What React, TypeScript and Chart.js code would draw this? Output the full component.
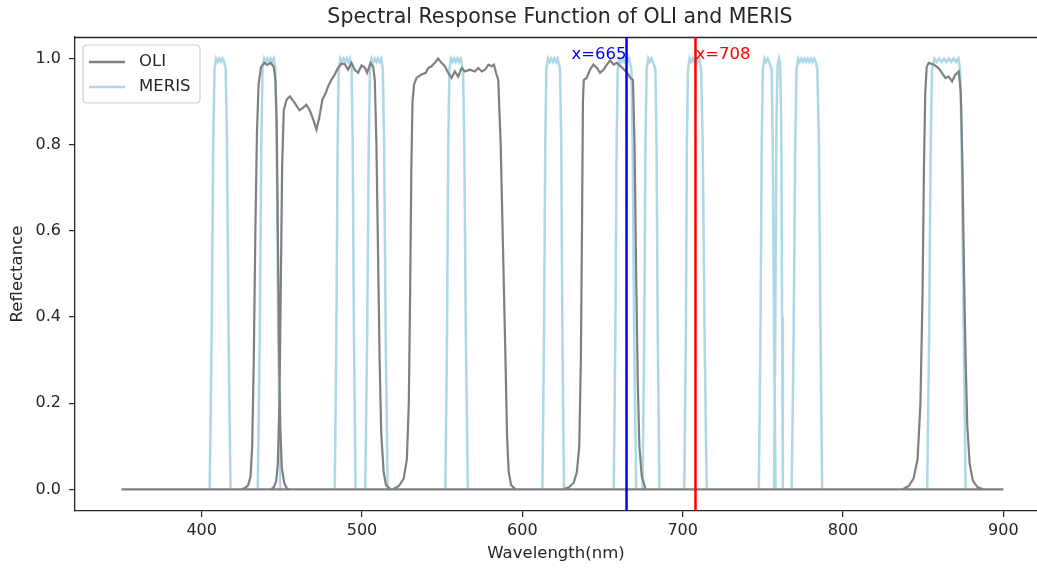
import React, { useEffect, useRef } from "react";
import { Chart, registerables } from "chart.js";

Chart.register(...registerables);

// ---------- text ----------
const TITLE = "Spectral Response Function of OLI and MERIS";
const X_LABEL = "Wavelength(nm)";
const Y_LABEL = "Reflectance";
const SERIES_NAMES = ["OLI", "MERIS"];
const SERIES_COLORS = ["#808080", "#add8e6"];

// ---------- axes ----------
const X_MIN = 321;
const X_MAX = 921;
const Y_MIN = -0.05;
const Y_MAX = 1.05;
const X_TICKS = [400, 500, 600, 700, 800, 900];
const Y_TICKS = [0, 0.2, 0.4, 0.6, 0.8, 1.0];

// ---------- marker lines ----------
const VLINE_X = [665, 708];
const VLINE_COLORS = ["#0000ff", "#ff0000"];
const VLINE_LABELS = ["x=665", "x=708"];

// ---------- OLI (Landsat-8) spectral response ----------
const OLI_BASE_WL = [350, 900];
const OLI_BASE_VAL = [0, 0];

const OLI_B1_WL = [424, 427, 429, 430.5, 431.5, 432.5, 433.5, 434.5, 435.5, 437, 439, 441, 443, 445, 446, 446.8, 447.5, 448.2, 449, 450, 451.5, 453, 455];
const OLI_B1_VAL = [0, 0.003, 0.01, 0.03, 0.1, 0.3, 0.6, 0.83, 0.94, 0.98, 0.99, 0.985, 0.99, 0.98, 0.95, 0.85, 0.6, 0.35, 0.15, 0.05, 0.015, 0.003, 0];

const OLI_B2_WL = [443, 445, 446.5, 447.5, 448.5, 449.3, 450.2, 451.2, 453, 455, 458, 461, 463, 465.3, 467.4, 470, 471.6, 473.3, 475.3, 477.4, 478.9, 481, 483, 485, 487.2, 489.3, 491.3, 493.4, 495.5, 497.6, 499.7, 501.7, 503.2, 505.3, 507, 508, 509, 510, 511, 512, 513.5, 515, 518];
const OLI_B2_VAL = [0, 0.005, 0.02, 0.06, 0.2, 0.45, 0.75, 0.88, 0.905, 0.912, 0.897, 0.88, 0.885, 0.893, 0.88, 0.854, 0.835, 0.862, 0.905, 0.92, 0.936, 0.951, 0.963, 0.978, 0.988, 0.987, 0.974, 0.99, 0.974, 0.967, 0.984, 0.979, 0.967, 0.99, 0.981, 0.95, 0.8, 0.55, 0.3, 0.13, 0.04, 0.01, 0];

const OLI_B3_WL = [519, 523, 526, 528, 529.2, 530, 530.8, 531.5, 532.5, 534, 537.1, 539.8, 541.3, 543.4, 545.4, 547.5, 549.6, 551.7, 553.7, 555.9, 557.9, 560, 562.1, 564.2, 567.3, 570.4, 572.5, 574.7, 576.8, 578.8, 580.9, 582.3, 583.6, 585, 586.5, 588, 589.5, 590.5, 591.5, 593, 596];
const OLI_B3_VAL = [0, 0.008, 0.025, 0.07, 0.2, 0.45, 0.75, 0.9, 0.94, 0.955, 0.963, 0.967, 0.978, 0.982, 0.99, 1.0, 0.99, 0.982, 0.967, 0.955, 0.97, 0.958, 0.978, 0.97, 0.974, 0.97, 0.978, 0.97, 0.974, 0.986, 0.982, 0.986, 0.967, 0.95, 0.8, 0.55, 0.3, 0.12, 0.04, 0.01, 0];

const OLI_B4_WL = [625, 629, 632, 634, 635.5, 636.5, 637.2, 637.8, 638.3, 640.1, 642.2, 644.3, 646.4, 648.5, 650.6, 652.7, 654.8, 656.9, 659, 662.2, 665.3, 667.4, 669, 670, 671, 672, 673, 674.5, 677];
const OLI_B4_VAL = [0, 0.005, 0.015, 0.04, 0.1, 0.3, 0.6, 0.9, 0.95, 0.955, 0.974, 0.986, 0.979, 0.967, 0.974, 0.986, 0.996, 0.986, 0.99, 0.979, 0.967, 0.955, 0.95, 0.8, 0.5, 0.25, 0.1, 0.03, 0];

const OLI_B5_WL = [837, 841, 844, 846.5, 848.3, 849.6, 850.5, 851.3, 852.2, 853.4, 856.5, 859.6, 861.7, 863.8, 865.9, 868, 870, 872.2, 873.5, 874.5, 875.5, 876.5, 877.5, 879, 881, 884, 888];
const OLI_B5_VAL = [0, 0.008, 0.025, 0.07, 0.2, 0.45, 0.75, 0.92, 0.98, 0.99, 0.986, 0.978, 0.967, 0.955, 0.958, 0.947, 0.962, 0.97, 0.92, 0.75, 0.5, 0.3, 0.15, 0.06, 0.02, 0.005, 0];

// ---------- MERIS spectral response ----------
const MERIS_412_WL = [405, 406.2, 407.2, 408, 409, 410, 411, 412, 413, 414, 415, 415.8, 416.8, 418];
const MERIS_412_VAL = [0, 0.35, 0.8, 0.975, 1, 0.992, 1, 0.992, 1, 0.992, 0.975, 0.8, 0.35, 0];
const MERIS_442_WL = [435, 436.2, 437.2, 438, 439, 440, 441, 442, 443, 444, 445, 446, 446.8, 447.8, 449];
const MERIS_442_VAL = [0, 0.35, 0.8, 0.975, 1, 0.992, 1, 0.992, 1, 0.992, 1, 0.975, 0.8, 0.35, 0];
const MERIS_490_WL = [483, 484, 484.8, 485.5, 486.5, 487.5, 488.5, 489.5, 490.5, 491.5, 492.5, 493.5, 494.2, 495, 496];
const MERIS_490_VAL = [0, 0.35, 0.8, 0.975, 1, 0.992, 1, 0.992, 1, 0.992, 1, 0.975, 0.8, 0.35, 0];
const MERIS_510_WL = [502, 503.2, 504.2, 505, 506, 507, 508, 509, 510, 511, 512, 513, 513.8, 514.8, 516];
const MERIS_510_VAL = [0, 0.35, 0.8, 0.975, 1, 0.992, 1, 0.992, 1, 0.992, 1, 0.975, 0.8, 0.35, 0];
const MERIS_560_WL = [552, 553, 553.8, 554.5, 555.5, 556.5, 557.5, 558.5, 559.5, 560.5, 561.5, 563, 563.8, 564.8, 566];
const MERIS_560_VAL = [0, 0.35, 0.8, 0.975, 1, 0.992, 1, 0.992, 1, 0.992, 1, 0.975, 0.8, 0.35, 0];
const MERIS_620_WL = [612.5, 613.5, 614.3, 615, 616, 617, 618, 619, 620, 621, 622, 623.5, 624.3, 625, 626];
const MERIS_620_VAL = [0, 0.35, 0.8, 0.975, 1, 0.992, 1, 0.992, 1, 0.992, 1, 0.975, 0.8, 0.35, 0];
const MERIS_665_WL = [657, 658, 658.8, 659.5, 660.5, 661.5, 662.5, 663.5, 664.5, 665.5, 666.5, 668, 668.8, 669.8, 671];
const MERIS_665_VAL = [0, 0.35, 0.8, 0.975, 1, 0.992, 1, 0.992, 1, 0.992, 1, 0.975, 0.8, 0.35, 0];
const MERIS_681_WL = [675, 676, 676.8, 677.5, 678.5, 679.5, 680.5, 681.5, 683, 683.7, 684.5, 685.5];
const MERIS_681_VAL = [0, 0.35, 0.8, 0.975, 1, 0.992, 1, 0.992, 0.975, 0.8, 0.35, 0];
const MERIS_708_WL = [701, 702, 702.6, 703.3, 704.3, 705.3, 706.3, 707.3, 708.3, 709.3, 710.3, 711.5, 712.5, 713.7, 715];
const MERIS_708_VAL = [0, 0.35, 0.8, 0.975, 1, 0.992, 1, 0.992, 1, 0.992, 1, 0.975, 0.8, 0.35, 0];
const MERIS_753_WL = [747.5, 748.5, 749.3, 750, 751, 752, 753, 754, 755.5, 756.2, 757, 758];
const MERIS_753_VAL = [0, 0.35, 0.8, 0.975, 1, 0.992, 1, 0.992, 0.975, 0.8, 0.35, 0];
const MERIS_761_WL = [757, 757.8, 758.5, 759.2, 760, 760.8, 761.5, 762, 762.5];
const MERIS_761_VAL = [0, 0.4, 0.85, 0.985, 1, 0.985, 0.85, 0.4, 0];
const MERIS_778_WL = [768, 769.2, 770.2, 771, 772, 773, 774, 775, 776, 777, 778, 779, 780, 781, 782, 783, 784, 785, 786, 787];
const MERIS_778_VAL = [0, 0.35, 0.8, 0.975, 1, 0.992, 1, 0.992, 1, 0.992, 1, 0.992, 1, 0.992, 1, 0.992, 0.975, 0.8, 0.35, 0];
const MERIS_865_WL = [852.5, 853.7, 854.7, 855.5, 857, 858.5, 860, 861.5, 863, 864.5, 866, 867.5, 869, 870.5, 872, 873, 874, 875.3, 876.5];
const MERIS_865_VAL = [0, 0.35, 0.8, 0.975, 1, 0.992, 1, 0.992, 1, 0.992, 1, 0.992, 1, 0.992, 1, 0.975, 0.8, 0.35, 0];

const OLI_SEGMENTS: [number[], number[]][] = [
  [OLI_BASE_WL, OLI_BASE_VAL],
  [OLI_B1_WL, OLI_B1_VAL],
  [OLI_B2_WL, OLI_B2_VAL],
  [OLI_B3_WL, OLI_B3_VAL],
  [OLI_B4_WL, OLI_B4_VAL],
  [OLI_B5_WL, OLI_B5_VAL],
];

const MERIS_SEGMENTS: [number[], number[]][] = [
  [MERIS_412_WL, MERIS_412_VAL],
  [MERIS_442_WL, MERIS_442_VAL],
  [MERIS_490_WL, MERIS_490_VAL],
  [MERIS_510_WL, MERIS_510_VAL],
  [MERIS_560_WL, MERIS_560_VAL],
  [MERIS_620_WL, MERIS_620_VAL],
  [MERIS_665_WL, MERIS_665_VAL],
  [MERIS_681_WL, MERIS_681_VAL],
  [MERIS_708_WL, MERIS_708_VAL],
  [MERIS_753_WL, MERIS_753_VAL],
  [MERIS_761_WL, MERIS_761_VAL],
  [MERIS_778_WL, MERIS_778_VAL],
  [MERIS_865_WL, MERIS_865_VAL],
];

function toPoints(segs: [number[], number[]][]) {
  const out: { x: number; y: number | null }[] = [];
  segs.forEach(([wl, val], i) => {
    if (i > 0) out.push({ x: wl[0], y: null });
    wl.forEach((x, j) => out.push({ x, y: val[j] }));
  });
  return out;
}

const FONT = "'DejaVu Sans', sans-serif";
const TEXT_COLOR = "#262626";

const decorPlugin = {
  id: "decor",
  beforeDraw(chart: any) {
    const { ctx, width, height } = chart;
    ctx.save();
    ctx.fillStyle = "#ffffff";
    ctx.fillRect(0, 0, width, height);
    ctx.restore();
  },
  afterDraw(chart: any) {
    const { ctx, chartArea } = chart;
    const xs = chart.scales.x;
    const ys = chart.scales.y;
    ctx.save();
    // top spine
    ctx.strokeStyle = TEXT_COLOR;
    ctx.lineWidth = 1.3;
    ctx.beginPath();
    ctx.moveTo(chartArea.left, chartArea.top + 0.5);
    ctx.lineTo(chartArea.right, chartArea.top + 0.5);
    ctx.stroke();

    // vertical marker lines + labels
    VLINE_X.forEach((v, i) => {
      const px = xs.getPixelForValue(v);
      ctx.strokeStyle = VLINE_COLORS[i];
      ctx.lineWidth = 2.5;
      ctx.beginPath();
      ctx.moveTo(px, chartArea.top);
      ctx.lineTo(px, chartArea.bottom);
      ctx.stroke();
      ctx.fillStyle = VLINE_COLORS[i];
      ctx.font = `16.5px ${FONT}`;
      ctx.textBaseline = "alphabetic";
      ctx.textAlign = i === 0 ? "right" : "left";
      ctx.fillText(VLINE_LABELS[i], px, ys.getPixelForValue(1.0));
    });

    // title
    ctx.fillStyle = TEXT_COLOR;
    ctx.font = `20.5px ${FONT}`;
    ctx.textAlign = "center";
    ctx.textBaseline = "middle";
    ctx.fillText(TITLE, 560, 18);

    // legend
    const lx = 83, ly = 45, lw = 117, lh = 58, r = 4;
    ctx.fillStyle = "rgba(255,255,255,0.85)";
    ctx.strokeStyle = "#d0d0d0";
    ctx.lineWidth = 1.2;
    ctx.beginPath();
    ctx.moveTo(lx + r, ly);
    ctx.lineTo(lx + lw - r, ly);
    ctx.quadraticCurveTo(lx + lw, ly, lx + lw, ly + r);
    ctx.lineTo(lx + lw, ly + lh - r);
    ctx.quadraticCurveTo(lx + lw, ly + lh, lx + lw - r, ly + lh);
    ctx.lineTo(lx + r, ly + lh);
    ctx.quadraticCurveTo(lx, ly + lh, lx, ly + lh - r);
    ctx.lineTo(lx, ly + r);
    ctx.quadraticCurveTo(lx, ly, lx + r, ly);
    ctx.closePath();
    ctx.fill();
    ctx.stroke();
    SERIES_NAMES.forEach((name, i) => {
      const yy = 62 + i * 25;
      ctx.strokeStyle = SERIES_COLORS[i];
      ctx.lineWidth = 2.5;
      ctx.beginPath();
      ctx.moveTo(89, yy);
      ctx.lineTo(125, yy);
      ctx.stroke();
      ctx.fillStyle = TEXT_COLOR;
      ctx.font = `16.5px ${FONT}`;
      ctx.textAlign = "left";
      ctx.textBaseline = "middle";
      ctx.fillText(name, 139, yy);
    });
    ctx.restore();
  },
};

export default function App() {
  const ref = useRef<HTMLCanvasElement | null>(null);

  useEffect(() => {
    document.body.style.margin = "0";
    document.body.style.overflow = "hidden";
    const canvas = ref.current;
    if (!canvas) return;
    const chart = new Chart(canvas, {
      type: "line",
      data: {
        datasets: [
          {
            label: SERIES_NAMES[0],
            data: toPoints(OLI_SEGMENTS),
            borderColor: SERIES_COLORS[0],
            borderWidth: 2.2,
            pointRadius: 0,
            tension: 0,
            spanGaps: false,
            fill: false,
          },
          {
            label: SERIES_NAMES[1],
            data: toPoints(MERIS_SEGMENTS),
            borderColor: SERIES_COLORS[1],
            borderWidth: 2.5,
            pointRadius: 0,
            tension: 0,
            spanGaps: false,
            fill: false,
          },
        ],
      },
      options: {
        responsive: false,
        animation: false,
        devicePixelRatio: 1,
        layout: { padding: { top: 37, left: 0, right: 0, bottom: 0 } },
        plugins: {
          legend: { display: false },
          title: { display: false },
          tooltip: { enabled: false },
        },
        scales: {
          x: {
            type: "linear",
            min: X_MIN,
            max: X_MAX,
            afterBuildTicks: (s: any) => {
              s.ticks = X_TICKS.map((v) => ({ value: v }));
            },
            afterFit: (s: any) => {
              s.height = 58;
            },
            grid: {
              display: true,
              drawOnChartArea: false,
              drawTicks: true,
              tickLength: 6,
              color: TEXT_COLOR,
              lineWidth: 1.2,
            },
            border: { display: true, color: TEXT_COLOR, width: 1.3 },
            ticks: {
              color: TEXT_COLOR,
              font: { family: FONT, size: 16 },
              padding: 4,
              maxRotation: 0,
              callback: (v: any) => String(v),
            },
            title: {
              display: true,
              text: X_LABEL,
              color: TEXT_COLOR,
              font: { family: FONT, size: 16.5 },
              padding: { top: 0, bottom: 5 },
            },
          },
          y: {
            type: "linear",
            min: Y_MIN,
            max: Y_MAX,
            afterBuildTicks: (s: any) => {
              s.ticks = Y_TICKS.map((v) => ({ value: v }));
            },
            afterFit: (s: any) => {
              s.width = 75;
            },
            grid: {
              display: true,
              drawOnChartArea: false,
              drawTicks: true,
              tickLength: 6,
              color: TEXT_COLOR,
              lineWidth: 1.2,
            },
            border: { display: true, color: TEXT_COLOR, width: 1.3 },
            ticks: {
              color: TEXT_COLOR,
              font: { family: FONT, size: 16 },
              padding: 8,
              callback: (v: any) => Number(v).toFixed(1),
            },
            title: {
              display: true,
              text: Y_LABEL,
              color: TEXT_COLOR,
              font: { family: FONT, size: 16.5 },
              padding: { top: 7.5, bottom: 0 },
            },
          },
        },
      },
      plugins: [decorPlugin],
    });
    return () => chart.destroy();
  }, []);

  return (
    <div style={{ width: 1037, height: 569, overflow: "hidden" }}>
      <canvas ref={ref} width={1037} height={569} style={{ display: "block", width: 1037, height: 569 }} />
    </div>
  );
}
